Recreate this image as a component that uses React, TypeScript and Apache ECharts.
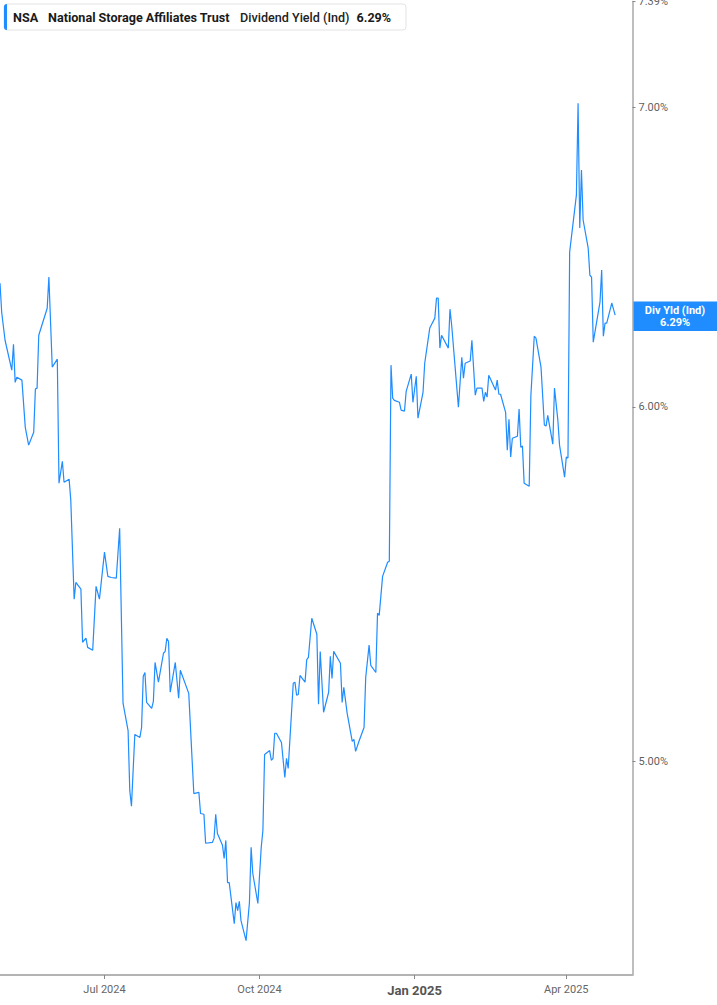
import React, { useEffect, useRef } from 'react';
import * as echarts from 'echarts';

const ticker = 'NSA';
const companyName = 'National Storage Affiliates Trust';
const metricName = 'Dividend Yield (Ind)';
const tagName = 'Div Yld (Ind)';

// trading days (vertices of the line)
const dates = [
    '2024-04-30', '2024-05-01', '2024-05-03', '2024-05-07', '2024-05-08', '2024-05-09', '2024-05-10', '2024-05-13', '2024-05-15', '2024-05-17',
    '2024-05-20', '2024-05-21', '2024-05-22', '2024-05-23', '2024-05-28', '2024-05-29', '2024-05-31', '2024-06-03', '2024-06-04', '2024-06-06',
    '2024-06-07', '2024-06-10', '2024-06-11', '2024-06-13', '2024-06-14', '2024-06-17', '2024-06-18', '2024-06-20', '2024-06-21', '2024-06-24',
    '2024-06-26', '2024-06-28', '2024-07-01', '2024-07-03', '2024-07-05', '2024-07-08', '2024-07-10', '2024-07-12', '2024-07-15', '2024-07-16',
    '2024-07-17', '2024-07-19', '2024-07-22', '2024-07-23', '2024-07-24', '2024-07-25', '2024-07-26', '2024-07-29', '2024-07-30', '2024-07-31',
    '2024-08-02', '2024-08-05', '2024-08-06', '2024-08-07', '2024-08-08', '2024-08-09', '2024-08-12', '2024-08-14', '2024-08-15', '2024-08-20',
    '2024-08-23', '2024-08-26', '2024-08-27', '2024-08-29', '2024-08-30', '2024-09-03', '2024-09-04', '2024-09-05', '2024-09-06', '2024-09-09',
    '2024-09-10', '2024-09-11', '2024-09-12', '2024-09-13', '2024-09-16', '2024-09-17', '2024-09-18', '2024-09-19', '2024-09-20', '2024-09-23',
    '2024-09-25', '2024-09-26', '2024-09-27', '2024-09-30', '2024-10-02', '2024-10-03', '2024-10-04', '2024-10-07', '2024-10-08', '2024-10-09',
    '2024-10-10', '2024-10-11', '2024-10-14', '2024-10-16', '2024-10-17', '2024-10-18', '2024-10-21', '2024-10-22', '2024-10-23', '2024-10-24',
    '2024-10-25', '2024-10-28', '2024-10-29', '2024-10-30', '2024-11-01', '2024-11-04', '2024-11-05', '2024-11-06', '2024-11-08', '2024-11-11',
    '2024-11-12', '2024-11-13', '2024-11-14', '2024-11-18', '2024-11-19', '2024-11-20', '2024-11-22', '2024-11-25', '2024-11-26', '2024-11-27',
    '2024-11-29', '2024-12-02', '2024-12-03', '2024-12-05', '2024-12-06', '2024-12-09', '2024-12-10', '2024-12-11', '2024-12-13', '2024-12-16',
    '2024-12-17', '2024-12-18', '2024-12-19', '2024-12-20', '2024-12-23', '2024-12-24', '2024-12-26', '2024-12-27', '2024-12-30', '2024-12-31',
    '2025-01-02', '2025-01-03', '2025-01-06', '2025-01-07', '2025-01-10', '2025-01-13', '2025-01-14', '2025-01-15', '2025-01-16', '2025-01-17',
    '2025-01-21', '2025-01-22', '2025-01-23', '2025-01-27', '2025-01-29', '2025-01-30', '2025-01-31', '2025-02-03', '2025-02-04', '2025-02-06',
    '2025-02-07', '2025-02-10', '2025-02-11', '2025-02-12', '2025-02-13', '2025-02-14', '2025-02-18', '2025-02-19', '2025-02-20', '2025-02-21',
    '2025-02-24', '2025-02-25', '2025-02-26', '2025-02-27', '2025-02-28', '2025-03-03', '2025-03-04', '2025-03-05', '2025-03-06', '2025-03-07',
    '2025-03-10', '2025-03-11', '2025-03-13', '2025-03-14', '2025-03-17', '2025-03-19', '2025-03-20', '2025-03-21', '2025-03-24', '2025-03-25',
    '2025-03-27', '2025-03-28', '2025-03-31', '2025-04-01', '2025-04-02', '2025-04-03', '2025-04-07', '2025-04-08', '2025-04-09', '2025-04-10',
    '2025-04-11', '2025-04-14', '2025-04-15', '2025-04-16', '2025-04-17', '2025-04-21', '2025-04-22', '2025-04-23', '2025-04-24', '2025-04-25',
    '2025-04-28', '2025-04-29', '2025-04-30',
];

// dividend yield, %
const yields = [
    6.394, 6.299, 6.209, 6.114, 6.196, 6.076, 6.092, 6.083, 5.937, 5.883,
    5.922, 6.055, 6.058, 6.225, 6.312, 6.414, 6.124, 6.149, 5.769, 5.834,
    5.772, 5.781, 5.719, 5.435, 5.482, 5.463, 5.316, 5.327, 5.302, 5.294,
    5.471, 5.435, 5.568, 5.499, 5.496, 5.494, 5.637, 5.152, 5.080, 4.926,
    4.886, 5.070, 5.062, 5.088, 5.224, 5.234, 5.154, 5.138, 5.157, 5.261,
    5.208, 5.286, 5.291, 5.327, 5.318, 5.181, 5.261, 5.165, 5.240, 5.178,
    4.918, 4.921, 4.868, 4.866, 4.794, 4.796, 4.806, 4.866, 4.818, 4.789,
    4.757, 4.801, 4.698, 4.698, 4.600, 4.650, 4.631, 4.653, 4.607, 4.560,
    4.650, 4.784, 4.720, 4.648, 4.784, 4.826, 5.018, 5.028, 5.003, 5.008,
    5.073, 5.073, 5.049, 4.959, 5.008, 4.982, 5.205, 5.208, 5.173, 5.175,
    5.226, 5.208, 5.269, 5.275, 5.382, 5.338, 5.149, 5.291, 5.128, 5.181,
    5.278, 5.218, 5.291, 5.259, 5.154, 5.194, 5.125, 5.052, 5.057, 5.026,
    5.052, 5.088, 5.221, 5.308, 5.253, 5.234, 5.396, 5.390, 5.499, 5.539,
    5.542, 6.130, 6.027, 6.020, 6.014, 5.990, 5.987, 6.048, 6.102, 6.014,
    6.095, 5.965, 6.045, 6.136, 6.248, 6.280, 6.345, 6.345, 6.184, 6.225,
    6.184, 6.309, 6.257, 5.999, 6.155, 6.089, 6.136, 6.143, 6.209, 6.036,
    6.058, 6.058, 6.017, 6.045, 6.030, 6.098, 6.052, 6.083, 6.039, 6.039,
    5.983, 5.868, 5.962, 5.847, 5.904, 5.910, 5.993, 5.877, 5.880, 5.769,
    5.760, 6.036, 6.222, 6.216, 6.124, 5.944, 5.941, 5.974, 5.886, 6.058,
    5.959, 5.883, 5.787, 5.847, 5.844, 6.497, 6.690, 7.014, 6.578, 6.777,
    6.605, 6.510, 6.420, 6.414, 6.203, 6.332, 6.437, 6.222, 6.264, 6.264,
    6.329, 6.309, 6.290,
];

const yTicks = [5, 6, 7, 7.39];
const yMin = 4.48;
const yMax = 7.39;

const xTicks = ['2024-07-01', '2024-10-01', '2025-01-01', '2025-04-01'];
const xTickLabels = ['Jul 2024', 'Oct 2024', 'Jan 2025', 'Apr 2025'];
const xStart = '2024-04-30T00:00:00Z';
const xEnd = '2025-05-10T07:00:00Z';

const BLUE = '#1f8cff';
const toMs = (d: string) => Date.parse(d.length > 10 ? d : d + 'T00:00:00Z');

export default function App() {
    const chartRef = useRef<HTMLDivElement>(null);

    useEffect(() => {
        document.body.style.margin = '0';
        const chart = echarts.init(chartRef.current!, null, { renderer: 'svg' });

        const tickMs = xTicks.map(toMs);
        const last = yields[yields.length - 1];
        const lastText = last.toFixed(2) + '%';

        chart.setOption({
            animation: false,
            grid: { left: 0, right: 84.5, top: 1.6, bottom: 30, containLabel: false, outerBoundsMode: 'none' },
            xAxis: {
                type: 'value',
                min: toMs(xStart),
                max: toMs(xEnd),
                splitLine: { show: false },
                axisLine: { lineStyle: { color: '#b3b3b3', width: 2 } },
                axisTick: { show: true, customValues: tickMs, length: 4, lineStyle: { color: '#888' } },
                axisLabel: {
                    customValues: tickMs,
                    margin: 9,
                    formatter: (v: number) => {
                        const i = tickMs.indexOf(v);
                        const s = i >= 0 ? xTickLabels[i] : '';
                        return s.startsWith('Jan') ? `{b|${s}}` : `{n|${s}}`;
                    },
                    rich: {
                        n: { color: '#666', fontSize: 11, fontFamily: 'Roboto' },
                        b: { color: '#555', fontSize: 13, fontWeight: 'bold', fontFamily: 'Roboto' },
                    },
                },
            },
            yAxis: {
                type: 'value',
                position: 'right',
                min: Math.log(yMin),
                max: Math.log(yMax),
                splitLine: { show: false },
                axisLine: { show: true, lineStyle: { color: '#a9a9a9', width: 1.5 } },
                axisTick: { show: true, customValues: yTicks.map(Math.log), length: 3, lineStyle: { color: '#888' } },
                axisLabel: {
                    customValues: yTicks.map(Math.log),
                    formatter: (v: number) => Math.exp(v).toFixed(2) + '%',
                    color: '#5f5f5f',
                    fontSize: 11,
                    fontFamily: 'Roboto',
                    margin: 6,
                },
            },
            series: [
                {
                    type: 'line',
                    data: dates.map((d, i) => [toMs(d), Math.log(yields[i])]),
                    showSymbol: false,
                    silent: true,
                    lineStyle: { color: BLUE, width: 1.2 },
                },
            ],
        });

        const py = chart.convertToPixel({ yAxisIndex: 0 }, Math.log(last)) as number;

        chart.setOption({
            graphic: [
                {
                    type: 'group',
                    x: 4,
                    y: 4,
                    children: [
                        { type: 'rect', shape: { x: 0, y: 0, width: 402, height: 26, r: 3 }, style: { fill: '#fff', stroke: '#e3e3e3', lineWidth: 1 } },
                        { type: 'rect', shape: { x: 0, y: 0, width: 3, height: 26, r: [3, 0, 0, 3] }, style: { fill: BLUE } },
                        { type: 'text', x: 9, y: 13, style: { text: ticker, font: 'bold 12.6px Roboto', fill: '#1a1a1a', verticalAlign: 'middle' } },
                        { type: 'text', x: 44, y: 13, style: { text: companyName, font: 'bold 12.6px Roboto', fill: '#1a1a1a', verticalAlign: 'middle' } },
                        { type: 'text', x: 236, y: 13, style: { text: metricName, font: '500 12.6px Roboto', fill: '#222', verticalAlign: 'middle' } },
                        { type: 'text', x: 352.5, y: 13, style: { text: lastText, font: 'bold 12.6px Roboto', fill: '#1a1a1a', verticalAlign: 'middle' } },
                    ],
                },
                {
                    type: 'group',
                    x: 633,
                    y: py - 13.5,
                    children: [
                        { type: 'rect', shape: { x: 0, y: 0, width: 84, height: 29.5 }, style: { fill: BLUE } },
                        { type: 'text', x: 42, y: 9, style: { text: tagName, font: 'bold 11px Roboto', fill: '#fff', align: 'center', verticalAlign: 'middle' } },
                        { type: 'text', x: 42, y: 20.5, style: { text: lastText, font: 'bold 11px Roboto', fill: '#fff', align: 'center', verticalAlign: 'middle' } },
                    ],
                },
            ],
        });

        return () => {
            chart.dispose();
        };
    }, []);

    return <div ref={chartRef} style={{ width: 717, height: 1005 }} />;
}
